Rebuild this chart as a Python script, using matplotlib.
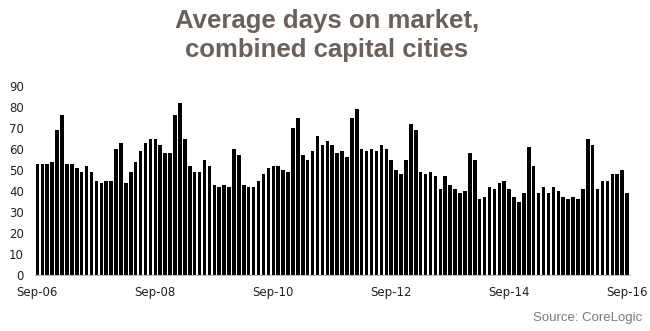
import matplotlib
matplotlib.use("Agg")
import matplotlib.pyplot as plt
import numpy as np

# monthly average days on market, Sep-06 .. Sep-16
days = [53, 53, 53, 54, 69, 76, 53, 53, 51, 49, 52, 49,
        45, 44, 45, 45, 60, 63, 44, 49, 54, 59, 63, 65,
        65, 62, 58, 58, 76, 82, 65, 52, 49, 49, 55, 52,
        43, 42, 43, 42, 60, 57, 43, 42, 42, 45, 48, 51,
        52, 52, 50, 49, 70, 75, 57, 55, 59, 66, 62, 64,
        62, 58, 59, 56, 75, 79, 60, 59, 60, 59, 62, 60,
        55, 50, 48, 55, 72, 69, 49, 48, 49, 47, 41, 47,
        43, 41, 39, 40, 58, 55, 36, 37, 42, 41, 44, 45,
        41, 37, 35, 39, 61, 52, 39, 42, 39, 42, 40, 37,
        36, 37, 36, 41, 65, 62, 41, 45, 45, 48, 48, 50,
        39]
tick_pos = [0, 24, 48, 72, 96, 120]
tick_labels = ["Sep-06", "Sep-08", "Sep-10", "Sep-12", "Sep-14", "Sep-16"]
title_lines = ["Average days on market,", "combined capital cities"]

fig = plt.figure(figsize=(6.5, 3.31), dpi=100)
ax = fig.add_axes([0.0538, 0.169, 0.9147, 0.571])

x = np.arange(len(days))
ax.bar(x, days, width=0.72, color="black")

ax.set_xlim(-0.5, len(days) - 0.5)
ax.set_ylim(0, 90)
ax.set_yticks(range(0, 91, 10))
ax.set_xticks(tick_pos)
ax.set_xticklabels(tick_labels)
ax.tick_params(axis="both", length=0, labelsize=8.5, colors="#222222")
ax.tick_params(axis="y", pad=8)
ax.tick_params(axis="x", pad=8)

for s in ["top", "right", "left"]:
    ax.spines[s].set_visible(False)
ax.spines["bottom"].set_color("#bbbbbb")
ax.spines["bottom"].set_linewidth(0.8)

# two-line title, one text per line
for yy, line in zip([0.938, 0.848], title_lines):
    fig.text(0.503, yy, line, ha="center", va="center", fontsize=18.5,
             fontweight="bold", family="Liberation Sans", color="#6b605a")
fig.text(0.988, 0.04, "Source: CoreLogic", ha="right", va="center",
         fontsize=9.5, family="Liberation Sans", color="#7a7a7a")

fig.savefig("out.png", dpi=100)
